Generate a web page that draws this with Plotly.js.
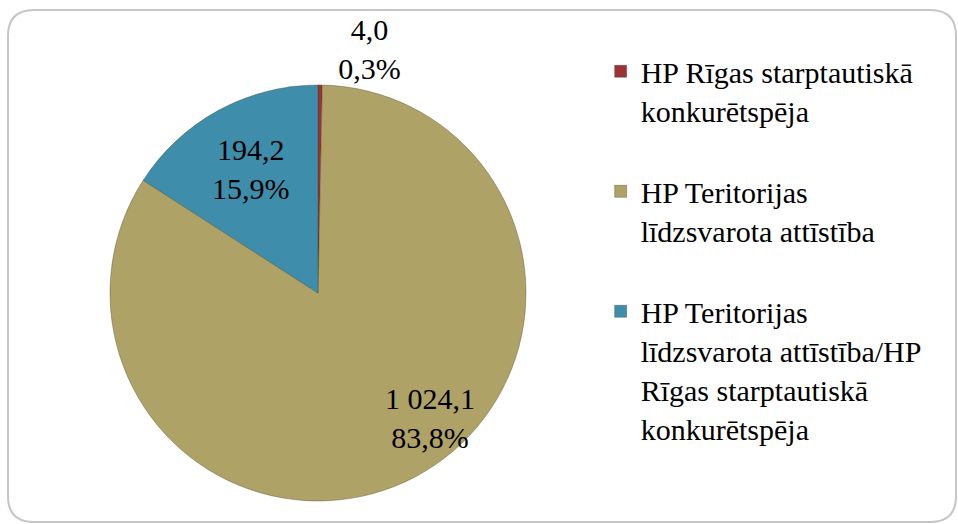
<!DOCTYPE html>
<html>
<head>
<meta charset="utf-8">
<script src="https://cdn.plot.ly/plotly-3.0.1.min.js"></script>
<style>
html,body{margin:0;padding:0;background:#fff;}
#chart{width:958px;height:524px;}
svg text, svg tspan { font-family: "Liberation Serif", "Times New Roman", serif !important; }
</style>
</head>
<body>
<div id="chart"></div>
<script>
// Data
var categories = [
  "HP Rīgas starptautiskā<br>konkurētspēja",
  "HP Teritorijas<br>līdzsvarota attīstība",
  "HP Teritorijas<br>līdzsvarota attīstība/HP<br>Rīgas starptautiskā<br>konkurētspēja"
];
var values = [4.0, 1024.1, 194.2];
var colors = ["#9E3337", "#AFA266", "#3E8DAB"];

var FONT = "Liberation Serif";

// Legend spacing: pad entries with a blank line so items are spread like the reference
var legendLabels = categories.map(function (c, i) {
  return i < categories.length - 1 ? c + "<br> " : c;
});

var total = values.reduce(function (a, b) { return a + b; }, 0);
function fmtNum(v, d) {
  var s = v.toFixed(d).split(".");
  s[0] = s[0].replace(/\B(?=(\d{3})+(?!\d))/g, " ");
  return s.join(",");
}
// label for the large slice, placed lower-right in the slice as in the reference
var bigIdx = 1;
var bigLabel = fmtNum(values[bigIdx], 1) + "<br>" + fmtNum(values[bigIdx] / total * 100, 1) + "%";

var trace = {
  type: "pie",
  labels: legendLabels,
  values: values,
  sort: false,
  direction: "clockwise",
  rotation: 0,
  marker: { colors: colors, line: { color: "rgba(60,60,40,0.35)", width: 1 } },
  texttemplate: "%{value:,.1f}<br>%{percent:.1%}",
  textposition: ["outside", "none", "inside"],
  insidetextorientation: "horizontal",
  textfont: { family: FONT, size: 30, color: "#000" },
  outsidetextfont: { family: FONT, size: 30, color: "#000" },
  insidetextfont: { family: FONT, size: 30, color: "#000" },
  hoverinfo: "value+percent",
  domain: { x: [0.1148, 0.5491], y: [0.0439, 0.8378] },
  automargin: false
};

var layout = {
  width: 958,
  height: 524,
  margin: { l: 0, r: 0, t: 0, b: 0 },
  paper_bgcolor: "#fff",
  separators: ", ",
  showlegend: true,
  legend: {
    x: 0.627, xanchor: "left",
    y: 0.9135, yanchor: "top",
    valign: "top",
    font: { family: FONT, size: 30, color: "#000" },
    bgcolor: "rgba(0,0,0,0)"
  },
  annotations: [{
    xref: "paper", yref: "paper", x: 0.4489, y: 0.2023,
    xanchor: "center", yanchor: "middle", showarrow: false,
    text: bigLabel, font: { family: FONT, size: 30, color: "#000" }
  }],
  shapes: [{
    type: "path", xref: "paper", yref: "paper",
    path: (function () {
      var W = 958, H = 524, l = 8, t = 10, r = 956, b = 522, rad = 26;
      function X(p) { return (p / W).toFixed(5); }
      function Y(p) { return (1 - p / H).toFixed(5); }
      return "M" + X(l + rad) + "," + Y(t) +
        " L" + X(r - rad) + "," + Y(t) +
        " Q" + X(r) + "," + Y(t) + " " + X(r) + "," + Y(t + rad) +
        " L" + X(r) + "," + Y(b - rad) +
        " Q" + X(r) + "," + Y(b) + " " + X(r - rad) + "," + Y(b) +
        " L" + X(l + rad) + "," + Y(b) +
        " Q" + X(l) + "," + Y(b) + " " + X(l) + "," + Y(b - rad) +
        " L" + X(l) + "," + Y(t + rad) +
        " Q" + X(l) + "," + Y(t) + " " + X(l + rad) + "," + Y(t) + " Z";
    })(),
    line: { color: "#C6C6C6", width: 2 },
    fillcolor: "rgba(0,0,0,0)"
  }]
};

Plotly.newPlot("chart", [trace], layout, { displayModeBar: false, staticPlot: true });
</script>
</body>
</html>
